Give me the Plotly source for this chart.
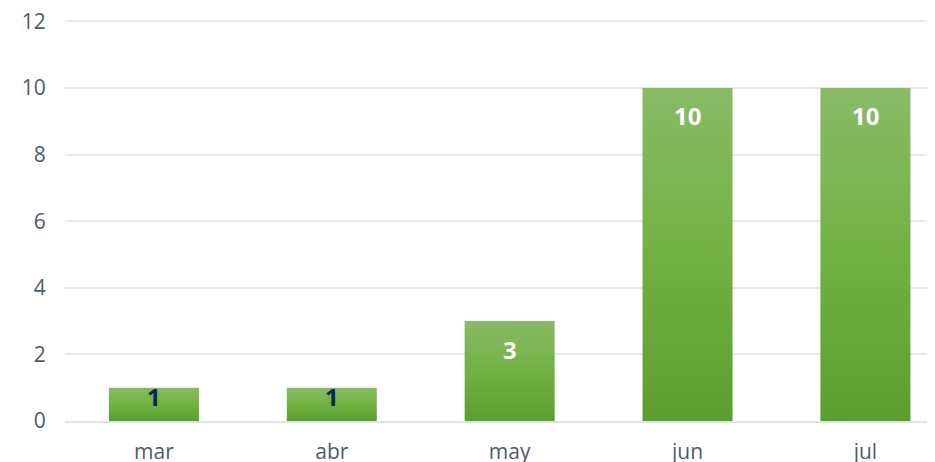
import plotly.graph_objects as go

months = ["mar", "abr", "may", "jun", "jul"]
values = [1, 1, 3, 10, 10]
y_ticks = [0, 2, 4, 6, 8, 10, 12]

BAR_HALF = 0.253
GRAD = [[0, "#5b9e2f"], [0.5, "#72b143"], [1, "#89bb66"]]

fig = go.Figure()
for i, v in enumerate(values):
    fig.add_trace(go.Scatter(
        x=[i - BAR_HALF, i + BAR_HALF, i + BAR_HALF, i - BAR_HALF, i - BAR_HALF],
        y=[0, 0, v, v, 0],
        mode="lines",
        line=dict(width=0),
        fill="toself",
        fillgradient=dict(type="vertical", colorscale=GRAD),
        hoverinfo="skip",
        showlegend=False,
    ))

for i, v in enumerate(values):
    small = v < 2
    fig.add_annotation(
        x=i, y=v, xref="x", yref="y",
        text=f"<b>{v}</b>",
        showarrow=False,
        yanchor="middle",
        yshift=-9 if small else -28,
        font=dict(family="Open Sans", size=24, color="#0b2559" if small else "#ffffff"),
    )

# page body has an 8px margin; margins below compensate for it
fig.update_layout(
    width=927, height=454,
    margin=dict(l=57, r=2, t=10, b=41),
    paper_bgcolor="white", plot_bgcolor="white",
    font=dict(family="Open Sans", color="#4b5b70", size=21),
    xaxis=dict(
        range=[-0.5, 4.38],
        tickvals=list(range(len(months))),
        ticktext=months,
        showgrid=False,
        zeroline=False,
        showline=True, linecolor="#dfe3e8", linewidth=2,
        ticks="outside", ticklen=11, tickcolor="rgba(0,0,0,0)",
        tickfont=dict(size=21, color="#4b5b70"),
        ticklabeloverflow="allow",
        automargin=False,
        fixedrange=True,
    ),
    yaxis=dict(
        range=[0, 12.1],
        tickvals=y_ticks,
        showgrid=True, gridcolor="#e4e7ec", gridwidth=2,
        zeroline=False,
        ticks="outside", ticklen=14, tickcolor="rgba(0,0,0,0)",
        tickfont=dict(size=21, color="#4b5b70"),
        ticklabeloverflow="allow",
        automargin=False,
        fixedrange=True,
    ),
)

fig.write_html("out.html")
